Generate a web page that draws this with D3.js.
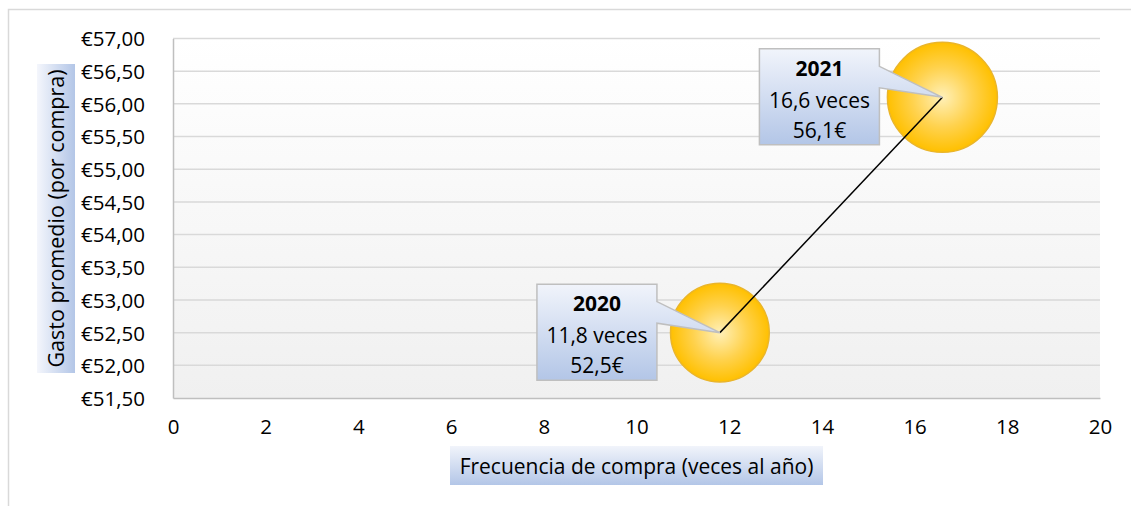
<!DOCTYPE html>
<html>
<head>
<meta charset="utf-8">
<script src="https://cdn.jsdelivr.net/npm/d3@7"></script>
<style>
  body { margin: 0; background: #fff; }
  svg text { font-family: "Open Sans", "Noto Sans", sans-serif; fill: #000; }
</style>
</head>
<body>
<div id="chart"></div>
<script>
// data
const years = ["2020", "2021"];
const frecuencia = [11.8, 16.6];      // veces al año
const gasto = [52.5, 56.1];           // € por compra
const bubbleSize = [100, 124];        // relative bubble size
const xTicks = [0, 2, 4, 6, 8, 10, 12, 14, 16, 18, 20];
const yTicks = [51.5, 52, 52.5, 53, 53.5, 54, 54.5, 55, 55.5, 56, 56.5, 57];
const xTitle = "Frecuencia de compra (veces al año)";
const yTitle = "Gasto promedio (por compra)";

const W = 1131, H = 506;
const margin = {top: 38.5, right: 31, bottom: 108, left: 173};
const width = W - margin.left - margin.right,
      height = H - margin.top - margin.bottom;

const svg = d3.select("#chart").append("svg")
    .attr("width", W).attr("height", H);

const defs = svg.append("defs");
const plotGrad = defs.append("linearGradient").attr("id", "plotBg")
    .attr("x1", 0).attr("y1", 0).attr("x2", 0).attr("y2", 1);
plotGrad.append("stop").attr("offset", "0%").attr("stop-color", "#ffffff");
plotGrad.append("stop").attr("offset", "100%").attr("stop-color", "#f0f0f0");

const boxGrad = defs.append("linearGradient").attr("id", "boxBg")
    .attr("x1", 0).attr("y1", 0).attr("x2", 0).attr("y2", 1);
boxGrad.append("stop").attr("offset", "0%").attr("stop-color", "#f1f4fb");
boxGrad.append("stop").attr("offset", "100%").attr("stop-color", "#b3c6e7");

const yTitleGrad = defs.append("linearGradient").attr("id", "yTitleBg")
    .attr("x1", 0).attr("y1", 0).attr("x2", 1).attr("y2", 0);
yTitleGrad.append("stop").attr("offset", "0%").attr("stop-color", "#f4f6fc");
yTitleGrad.append("stop").attr("offset", "100%").attr("stop-color", "#b3c6e7");

const bubbleGrad = defs.append("radialGradient").attr("id", "bubble")
    .attr("cx", "50%").attr("cy", "50%").attr("r", "50%");
bubbleGrad.append("stop").attr("offset", "0%").attr("stop-color", "#fff0b8");
bubbleGrad.append("stop").attr("offset", "55%").attr("stop-color", "#ffd24d");
bubbleGrad.append("stop").attr("offset", "100%").attr("stop-color", "#ffc000");

// chart border (top + left visible)
svg.append("path")
    .attr("d", "M8.5," + H + "V9.5H" + W)
    .attr("fill", "none").attr("stroke", "#d9d9d9").attr("stroke-width", 1.5);

const x = d3.scaleLinear().domain([0, 20]).range([0, width]);
const y = d3.scaleLinear().domain([51.5, 57]).range([height, 0]);
const r = d3.scaleSqrt().domain([0, d3.max(bubbleSize)]).range([0, 55]);

const g = svg.append("g")
    .attr("transform", "translate(" + margin.left + "," + margin.top + ")");

g.append("rect")
    .attr("width", width).attr("height", height)
    .attr("fill", "url(#plotBg)");

// gridlines
g.append("g").selectAll("line")
    .data(yTicks.slice(1))
    .enter().append("line")
    .attr("x1", 0).attr("x2", width)
    .attr("y1", d => y(d)).attr("y2", d => y(d))
    .attr("stroke", "#d9d9d9").attr("stroke-width", 1.5);

// axes
const fmtEuro = d => "€" + d3.format(".2f")(d).replace(".", ",");
const yAxis = g.append("g")
    .call(d3.axisLeft(y).tickValues(yTicks).tickFormat(fmtEuro).tickSize(0).tickPadding(28));
yAxis.select(".domain").attr("stroke", "#bfbfbf").attr("stroke-width", 1.5);
yAxis.selectAll("text").style("font-size", "20.5px").attr("dy", "0.36em");

const xAxis = g.append("g")
    .attr("transform", "translate(0," + height + ")")
    .call(d3.axisBottom(x).tickValues(xTicks).tickFormat(d3.format("d")).tickSize(0).tickPadding(21));
xAxis.select(".domain").attr("stroke", "#bfbfbf").attr("stroke-width", 1.5);
xAxis.selectAll("text").style("font-size", "20.5px");

const pts = years.map((yr, i) => ({year: yr, fx: frecuencia[i], gy: gasto[i], s: bubbleSize[i]}));

// bubbles
g.selectAll(".bubble")
    .data(pts)
    .enter().append("circle")
    .attr("class", "bubble")
    .attr("cx", d => x(d.fx)).attr("cy", d => y(d.gy))
    .attr("r", d => r(d.s))
    .attr("fill", "url(#bubble)")
    .attr("stroke", "#eab52a").attr("stroke-width", 1.5);

// connecting line
g.append("path")
    .datum(pts)
    .attr("d", d3.line().x(d => x(d.fx)).y(d => y(d.gy)))
    .attr("fill", "none").attr("stroke", "#000").attr("stroke-width", 1.5);

// callouts
const bw = 120, bh = 96;
const fmtNum = d => d3.format(".1f")(d).replace(".", ",");
pts.forEach(d => {
  const px = x(d.fx), py = y(d.gy);
  const bx = px - 63 - bw, by = py - 48.5;
  const c = g.append("g");
  const shape = [
    [bx, by], [bx + bw, by], [bx + bw, by + 17.5], [px, py],
    [bx + bw, by + 39], [bx + bw, by + bh], [bx, by + bh]
  ];
  c.append("path")
    .attr("d", d3.line()(shape) + "Z")
    .attr("fill", "url(#boxBg)").attr("stroke", "#bfbfbf").attr("stroke-width", 1.5);
  const cx = bx + bw / 2;
  c.append("text").attr("x", cx).attr("y", by + 27).attr("text-anchor", "middle")
    .style("font-size", "21px").style("font-weight", "bold").text(d.year);
  c.append("text").attr("x", cx).attr("y", by + 59).attr("text-anchor", "middle")
    .style("font-size", "21px").text(fmtNum(d.fx) + " veces");
  c.append("text").attr("x", cx).attr("y", by + 89).attr("text-anchor", "middle")
    .style("font-size", "21px").text(fmtNum(d.gy) + "€");
});

// axis titles
const xt = svg.append("g");
xt.append("rect").attr("x", 450).attr("y", 446).attr("width", 373).attr("height", 39)
    .attr("fill", "url(#boxBg)");
xt.append("text").attr("x", 636.5).attr("y", 474).attr("text-anchor", "middle")
    .style("font-size", "21px").text(xTitle);

const yt = svg.append("g");
yt.append("rect").attr("x", 37).attr("y", 64).attr("width", 38).attr("height", 309)
    .attr("fill", "url(#yTitleBg)");
yt.append("text").attr("transform", "translate(64,218.5) rotate(-90)")
    .attr("text-anchor", "middle")
    .style("font-size", "21.5px").text(yTitle);
</script>
</body>
</html>
